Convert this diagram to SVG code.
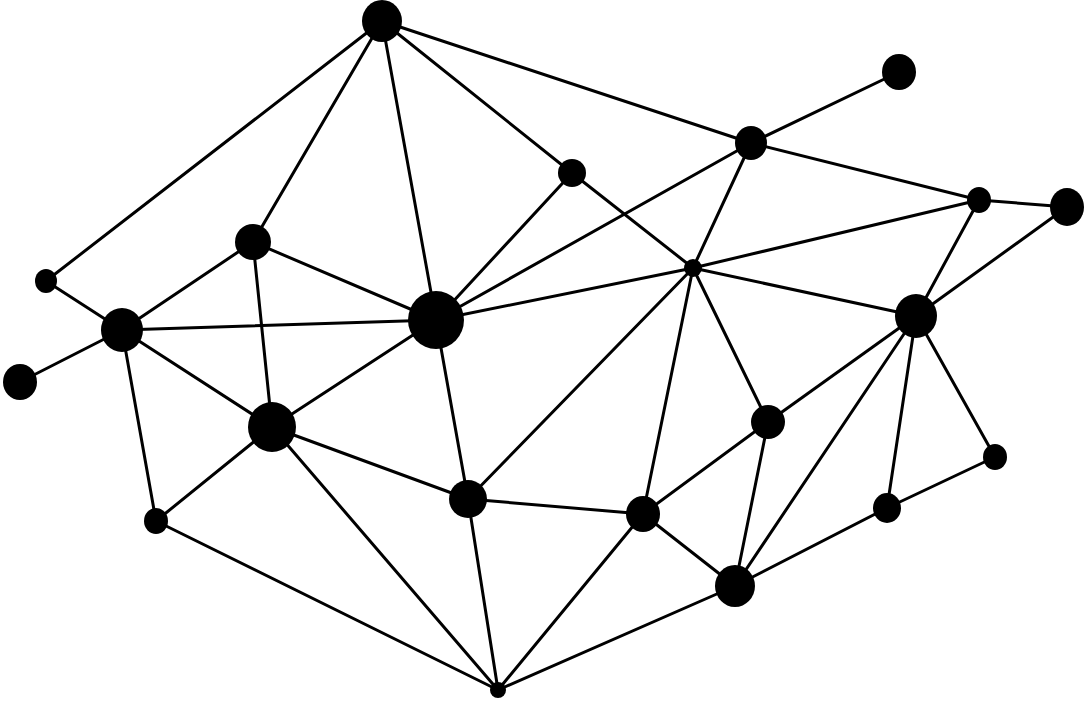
<svg xmlns="http://www.w3.org/2000/svg" width="1087" height="703" viewBox="0 0 1087 703">
<style>
.e{stroke:#000;stroke-width:3;stroke-linecap:round}
.n{fill:#000}
</style>
<rect width="1087" height="703" fill="#fff"/>
<g id="connectors" class="e">
<line x1="382" y1="21" x2="46" y2="281"/>
<line x1="382" y1="21" x2="253" y2="242"/>
<line x1="382" y1="21" x2="436" y2="320"/>
<line x1="382" y1="21" x2="572" y2="173"/>
<line x1="382" y1="21" x2="751" y2="143"/>
<line x1="751" y1="143" x2="899" y2="72"/>
<line x1="751" y1="143" x2="979" y2="200"/>
<line x1="751" y1="143" x2="436" y2="320"/>
<line x1="751" y1="143" x2="693" y2="268"/>
<line x1="572" y1="173" x2="436" y2="320"/>
<line x1="572" y1="173" x2="693" y2="268"/>
<line x1="979" y1="200" x2="1067" y2="207"/>
<line x1="979" y1="200" x2="693" y2="268"/>
<line x1="979" y1="200" x2="916" y2="316"/>
<line x1="1067" y1="207" x2="916" y2="316"/>
<line x1="253" y1="242" x2="122" y2="330"/>
<line x1="253" y1="242" x2="436" y2="320"/>
<line x1="253" y1="242" x2="272" y2="427"/>
<line x1="46" y1="281" x2="122" y2="330"/>
<line x1="122" y1="330" x2="20" y2="382"/>
<line x1="122" y1="330" x2="436" y2="320"/>
<line x1="122" y1="330" x2="272" y2="427"/>
<line x1="122" y1="330" x2="156" y2="521"/>
<line x1="436" y1="320" x2="272" y2="427"/>
<line x1="436" y1="320" x2="468" y2="499"/>
<line x1="436" y1="320" x2="693" y2="268"/>
<line x1="693" y1="268" x2="916" y2="316"/>
<line x1="693" y1="268" x2="468" y2="499"/>
<line x1="693" y1="268" x2="643" y2="514"/>
<line x1="693" y1="268" x2="768" y2="422"/>
<line x1="916" y1="316" x2="768" y2="422"/>
<line x1="916" y1="316" x2="735" y2="586"/>
<line x1="916" y1="316" x2="887" y2="508"/>
<line x1="916" y1="316" x2="995" y2="457"/>
<line x1="995" y1="457" x2="887" y2="508"/>
<line x1="887" y1="508" x2="735" y2="586"/>
<line x1="768" y1="422" x2="643" y2="514"/>
<line x1="768" y1="422" x2="735" y2="586"/>
<line x1="468" y1="499" x2="643" y2="514"/>
<line x1="643" y1="514" x2="735" y2="586"/>
<line x1="643" y1="514" x2="498" y2="690"/>
<line x1="468" y1="499" x2="498" y2="690"/>
<line x1="272" y1="427" x2="468" y2="499"/>
<line x1="272" y1="427" x2="498" y2="690"/>
<line x1="272" y1="427" x2="156" y2="521"/>
<line x1="156" y1="521" x2="498" y2="690"/>
<line x1="735" y1="586" x2="498" y2="690"/>
</g>
<g id="nA"><ellipse class="n" cx="382" cy="21" rx="20" ry="21"/></g>
<g id="nB"><ellipse class="n" cx="899" cy="72" rx="17" ry="18"/></g>
<g id="nC"><ellipse class="n" cx="751" cy="143" rx="16" ry="17"/></g>
<g id="nD"><ellipse class="n" cx="572" cy="173" rx="14" ry="14"/></g>
<g id="nE"><ellipse class="n" cx="979" cy="200" rx="12" ry="13"/></g>
<g id="nF"><ellipse class="n" cx="1067" cy="207" rx="17" ry="19"/></g>
<g id="nG"><ellipse class="n" cx="253" cy="242" rx="18" ry="18"/></g>
<g id="nH"><ellipse class="n" cx="693" cy="268" rx="9" ry="9"/></g>
<g id="nI"><ellipse class="n" cx="46" cy="281" rx="11" ry="12"/></g>
<g id="nJ"><ellipse class="n" cx="122" cy="330" rx="21" ry="22"/></g>
<g id="nK"><ellipse class="n" cx="436" cy="320" rx="28" ry="29"/></g>
<g id="nL"><ellipse class="n" cx="916" cy="316" rx="21" ry="22"/></g>
<g id="nM"><ellipse class="n" cx="20" cy="382" rx="17" ry="18"/></g>
<g id="nN"><ellipse class="n" cx="272" cy="427" rx="24" ry="25"/></g>
<g id="nO"><ellipse class="n" cx="768" cy="422" rx="17" ry="17"/></g>
<g id="nP"><ellipse class="n" cx="995" cy="457" rx="12" ry="13"/></g>
<g id="nQ"><ellipse class="n" cx="468" cy="499" rx="19" ry="19"/></g>
<g id="nR"><ellipse class="n" cx="643" cy="514" rx="17" ry="18"/></g>
<g id="nS"><ellipse class="n" cx="887" cy="508" rx="14" ry="15"/></g>
<g id="nT"><ellipse class="n" cx="156" cy="521" rx="12" ry="13"/></g>
<g id="nU"><ellipse class="n" cx="735" cy="586" rx="20" ry="21"/></g>
<g id="nV"><ellipse class="n" cx="498" cy="690" rx="8" ry="8"/></g>
</svg>
